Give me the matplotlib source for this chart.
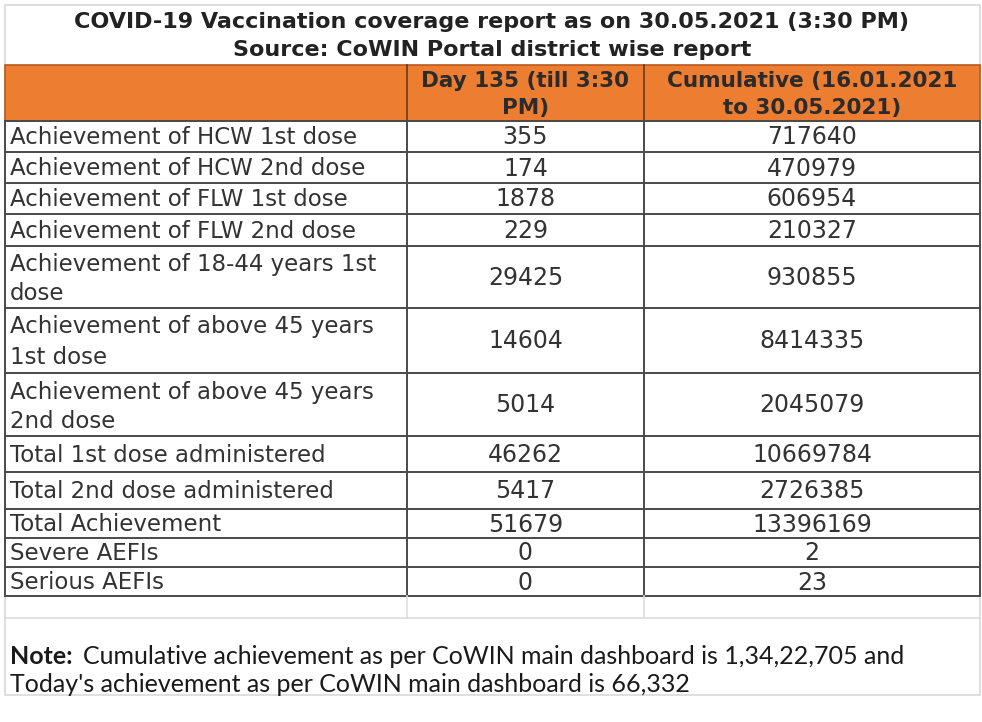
import matplotlib
matplotlib.use("Agg")
import matplotlib.pyplot as plt

# table content
title_lines = ["COVID-19 Vaccination coverage report as on 30.05.2021 (3:30 PM)",
               "Source: CoWIN Portal district wise report"]
col_headers = ["", "Day 135 (till 3:30\nPM)", "Cumulative (16.01.2021\nto 30.05.2021)"]
labels = ["Achievement of HCW 1st dose",
          "Achievement of HCW 2nd dose",
          "Achievement of FLW 1st dose",
          "Achievement of FLW 2nd dose",
          "Achievement of 18-44 years 1st\ndose",
          "Achievement of above 45 years\n1st dose",
          "Achievement of above 45 years\n2nd dose",
          "Total 1st dose administered",
          "Total 2nd dose administered",
          "Total Achievement",
          "Severe AEFIs",
          "Serious AEFIs"]
day_vals = [355, 174, 1878, 229, 29425, 14604, 5014, 46262, 5417, 51679, 0, 0]
cum_vals = [717640, 470979, 606954, 210327, 930855, 8414335, 2045079,
            10669784, 2726385, 13396169, 2, 23]
note_bold = "Note:"
note_rest = "Cumulative achievement as per CoWIN main dashboard is 1,34,22,705 and"
note_line2 = "Today's achievement as per CoWIN main dashboard is 66,332"

# layout (pixels)
W, H = 982, 722
col_x = [5, 407, 644, 980]
row_y = [121, 152, 183, 214, 246, 308, 373, 436, 472, 509, 538, 567, 596]
txt = "#333333"
grid = "#4a4a4a"
orange = "#ED7D31"

fig = plt.figure(figsize=(W / 100, H / 100), dpi=100)
ax = fig.add_axes([0, 0, 1, 1])
ax.set_xlim(0, W)
ax.set_ylim(H, 0)
ax.axis("off")

# outer light frame
ax.add_patch(plt.Rectangle((col_x[0], 5), col_x[-1] - col_x[0], 690,
                           fill=False, ec="#d9d9d9", lw=1.2))

# title
ax.text(492, 22, title_lines[0], ha="center", va="center", fontsize=16,
        fontweight="bold", color="#222222")
ax.text(492, 50, title_lines[1], ha="center", va="center", fontsize=16,
        fontweight="bold", color="#222222")

# header band
ax.add_patch(plt.Rectangle((col_x[0], 65), col_x[-1] - col_x[0], row_y[0] - 65,
                           fc=orange, ec="#b85a1e", lw=1.2))
for j in (1, 2):
    cx = (col_x[j] + col_x[j + 1]) / 2
    l1, l2 = col_headers[j].split("\n")
    ax.text(cx, 81, l1, ha="center", va="center", fontsize=15.5,
            fontweight="bold", color="#2b2b2b")
    ax.text(cx, 108, l2, ha="center", va="center", fontsize=15.5,
            fontweight="bold", color="#2b2b2b")
ax.plot([col_x[1], col_x[1]], [65, row_y[0]], color="#6b3a1a", lw=1.2)
ax.plot([col_x[2], col_x[2]], [65, row_y[0]], color="#6b3a1a", lw=1.2)

# grid lines
for y in row_y:
    ax.plot([col_x[0], col_x[-1]], [y, y], color=grid, lw=1.4)
for x in col_x:
    ax.plot([x, x], [row_y[0], row_y[-1]], color=grid, lw=1.4)

# empty row under the table
ax.plot([col_x[0], col_x[-1]], [618, 618], color="#dddddd", lw=1.2)
for x in col_x[1:3]:
    ax.plot([x, x], [row_y[-1], 618], color="#dddddd", lw=1.2)

# body rows
for i, lab in enumerate(labels):
    top, bot = row_y[i], row_y[i + 1]
    cy = (top + bot) / 2 + 1
    if "\n" in lab:
        l1, l2 = lab.split("\n")
        ax.text(10, top + 19, l1, ha="left", va="center", fontsize=16.5, color=txt)
        ax.text(10, bot - 15, l2, ha="left", va="center", fontsize=16.5, color=txt)
    else:
        ax.text(10, cy, lab, ha="left", va="center", fontsize=16.5, color=txt)
    ax.text((col_x[1] + col_x[2]) / 2, cy, str(day_vals[i]), ha="center",
            va="center", fontsize=17, color=txt)
    ax.text((col_x[2] + col_x[3]) / 2, cy, str(cum_vals[i]), ha="center",
            va="center", fontsize=17, color=txt)

# note
nb = ax.text(10, 657, note_bold, ha="left", va="center", fontsize=18,
             fontweight="bold", family="Lato", color="#1a1a1a")
fig.canvas.draw()
ext = nb.get_window_extent()
x_end = ax.transData.inverted().transform((ext.x1, ext.y0))[0]
ax.text(x_end + 10, 657, note_rest, ha="left", va="center", fontsize=18,
        family="Lato", color="#1a1a1a")
ax.text(10, 684, note_line2, ha="left", va="center", fontsize=18,
        family="Lato", color="#1a1a1a")

fig.savefig("out.png", dpi=100, facecolor="white")
